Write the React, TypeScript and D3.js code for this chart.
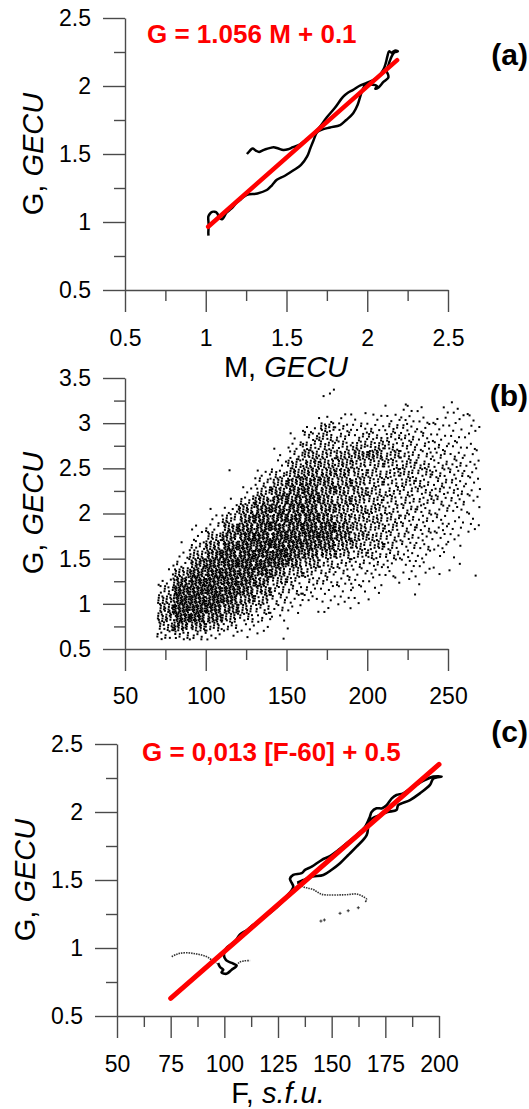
import React, { useRef, useEffect } from 'react';
import * as d3 from 'd3';

const FONT = 'Liberation Sans, Arial, Helvetica, sans-serif';

// (a) G vs M trajectory, [M, G]
const traceA: [number, number][] = [
  [1.255, 1.50], [1.27, 1.52], [1.29, 1.54], [1.31, 1.525], [1.33, 1.515], [1.35, 1.525], [1.37, 1.535],
  [1.40, 1.545], [1.42, 1.55], [1.45, 1.54], [1.48, 1.53], [1.51, 1.535], [1.54, 1.55], [1.575, 1.565],
  [1.605, 1.59], [1.637, 1.62], [1.667, 1.65], [1.70, 1.69], [1.75, 1.77], [1.80, 1.84], [1.85, 1.92],
  [1.88, 1.95], [1.91, 1.97], [1.95, 2.0], [1.99, 2.02], [2.03, 2.04], [2.07, 2.07], [2.10, 2.12],
  [2.115, 2.17], [2.125, 2.22], [2.135, 2.255], [2.15, 2.245], [2.17, 2.26], [2.19, 2.255], [2.165, 2.245],
  [2.145, 2.20], [2.13, 2.15], [2.12, 2.11], [2.13, 2.08], [2.13, 2.06], [2.10, 2.03], [2.07, 1.99],
  [2.05, 1.98], [2.06, 2.0], [2.03, 2.01], [1.99, 2.01], [1.97, 1.97], [1.956, 1.92], [1.94, 1.86],
  [1.913, 1.80], [1.87, 1.75], [1.832, 1.713], [1.77, 1.695], [1.72, 1.68], [1.69, 1.66], [1.667, 1.60],
  [1.647, 1.54], [1.627, 1.48], [1.59, 1.42], [1.543, 1.38], [1.49, 1.34], [1.44, 1.31], [1.41, 1.27],
  [1.378, 1.235], [1.32, 1.21], [1.255, 1.20], [1.22, 1.17], [1.19, 1.14], [1.16, 1.10], [1.13, 1.07],
  [1.10, 1.02], [1.085, 1.03], [1.07, 1.066], [1.055, 1.075], [1.04, 1.075], [1.025, 1.06], [1.016, 1.04],
  [1.018, 0.98], [1.016, 0.92], [1.017, 0.90],
];
const fitA: [number, number][] = [[1.015, 0.965], [2.185, 2.19]];

// (b) scatter G vs F: point counts per cell (base 36), F from 70 in steps of 10,
// G rows from 3.3-3.4 (top) down to 0.6-0.7
const scatterF = [70, 80, 90, 100, 110, 120, 130, 140, 150, 160, 170, 180, 190, 200, 210, 220, 230, 240, 250, 260];
const scatterG = [3.3, 3.2, 3.1, 3.0, 2.9, 2.8, 2.7, 2.6, 2.5, 2.4, 2.3, 2.2, 2.1, 2.0, 1.9, 1.8, 1.7, 1.6, 1.5, 1.4, 1.3, 1.2, 1.1, 1.0, 0.9, 0.8, 0.7, 0.6];
const scatterCounts = [
  '00000000002000000000',
  '00000000001000010010',
  '00000000000010132221',
  '00000000003223443332',
  '0000000004e856764333',
  '0000000028c878985432',
  '000000015ccadea86643',
  '000000018gehkme97653',
  '00000003ejhheccc9764',
  '00001049jlkjeccca864',
  '0000008gnpmjfcab9764',
  '000003dkprmjhc9a8873',
  '00001akprrmigca98763',
  '00015kssssmigea87542',
  '0002dnssuuoifea86532',
  '0026ksuuuwwpgca76533',
  '003epuwwwxwpic975431',
  '018luwwxwuriee965420',
  '03grwwyyupieaa854210',
  '06nwyyyxnga876543110',
  '2guwxwumea8644332111',
  '4sxyxuoea76643211000',
  'ayzzxska854332010000',
  'gzzzuke8543321000000',
  'kzzxoea5312200000000',
  'iyxqga63100000000000',
  'eoke8420100000000000',
  '8a842111000000000000',
];

// (c) G vs F trajectory, [F, G]
const traceC: [number, number][] = [
  [97.1, 0.89], [98, 0.86], [99.5, 0.84], [98.7, 0.82], [101, 0.81], [103.4, 0.84], [105.7, 0.87],
  [103.4, 0.89], [100.8, 0.91], [99.8, 0.95], [101, 1.0], [105, 1.05], [107.3, 1.10], [110.4, 1.13],
  [113.5, 1.17], [116.5, 1.20], [119.7, 1.24], [124.4, 1.30], [129, 1.38], [132.1, 1.45], [131, 1.49],
  [130.6, 1.51], [132.1, 1.537], [136, 1.55], [137.6, 1.574], [140.7, 1.598], [145.3, 1.647], [149.2, 1.676],
  [153.1, 1.72], [157, 1.77], [161.6, 1.83], [165.5, 1.89], [167.8, 1.965], [168.6, 2.0], [170.9, 2.027],
  [173.5, 2.027], [175.6, 2.05], [178, 2.10], [180.2, 2.125], [183.3, 2.137], [188, 2.186], [193.4, 2.235],
  [197.3, 2.26], [201.2, 2.26], [197.3, 2.245], [195.8, 2.199], [191.1, 2.137], [186.5, 2.088], [181, 2.05],
  [180.2, 2.015], [176, 2.0], [172.5, 1.978], [167.8, 1.94], [166.3, 1.83], [161.6, 1.745], [157.5, 1.68],
  [153.9, 1.623], [150, 1.575], [146.1, 1.537], [141, 1.525], [136.8, 1.50], [134, 1.48],
];
const trailC1: [number, number][] = [
  [75.5, 0.936], [77.5, 0.952], [79.3, 0.961], [82.4, 0.965], [85.5, 0.96], [87.1, 0.956], [89, 0.95],
  [91, 0.941], [92.5, 0.93], [94.1, 0.912], [96.4, 0.887],
];
const trailC2: [number, number][] = [[105.7, 0.87], [107, 0.895], [109, 0.905], [112, 0.907]];
const trailC3: [number, number][] = [
  [134, 1.48], [136.8, 1.45], [139, 1.44], [141.4, 1.43], [143.5, 1.41], [145.3, 1.395], [148, 1.39],
  [152.3, 1.39], [157, 1.392], [161.6, 1.397], [164.7, 1.377], [166.3, 1.358], [165.5, 1.335],
];
const sparseC: [number, number][] = [[162.4, 1.296], [157.7, 1.274], [153.9, 1.255], [146.6, 1.206], [145, 1.198]];
const fitC: [number, number][] = [[75, 0.63], [200, 2.35]];

type Scale = d3.ScaleLinear<number, number>;

function drawAxes(svg: any, x: Scale, y: Scale, xMajor: number[], xMinor: number[],
  yMajor: number[], yMinor: number[], xPad: number) {
  const x0 = x.range()[0];
  const y0 = y.range()[0];
  const style = (g: any) => {
    g.attr('font-family', FONT).attr('font-size', 23).style('color', '#4a4a4a');
    g.selectAll('line').attr('stroke-width', 1.4);
    g.selectAll('path').attr('stroke-width', 1.4);
    g.selectAll('text').attr('fill', '#000');
  };
  svg.append('g').attr('transform', `translate(0,${y0})`)
    .call(d3.axisBottom(x).tickValues(xMinor).tickSize(11).tickFormat(() => '').tickSizeOuter(0))
    .call(style).select('.domain').remove();
  svg.append('g').attr('transform', `translate(0,${y0})`)
    .call(d3.axisBottom(x).tickValues(xMajor).tickSize(22).tickPadding(xPad).tickSizeOuter(0).tickFormat(d3.format('')))
    .call(style);
  svg.append('g').attr('transform', `translate(${x0},0)`)
    .call(d3.axisLeft(y).tickValues(yMinor).tickSize(11).tickFormat(() => '').tickSizeOuter(0))
    .call(style).select('.domain').remove();
  svg.append('g').attr('transform', `translate(${x0},0)`)
    .call(d3.axisLeft(y).tickValues(yMajor).tickSize(22).tickPadding(12).tickSizeOuter(0).tickFormat(d3.format('')))
    .call(style);
}

function yTitle(svg: any, x: number, y: number) {
  const t = svg.append('text')
    .attr('transform', `translate(${x},${y}) rotate(-90)`)
    .attr('text-anchor', 'middle').attr('font-family', FONT).attr('font-size', 29).attr('fill', '#000');
  t.append('tspan').text('G, ');
  t.append('tspan').attr('font-style', 'italic').text('GECU');
}

function panelLabel(svg: any, text: string, y: number) {
  svg.append('text').attr('x', 528).attr('y', y).attr('text-anchor', 'end')
    .attr('font-family', FONT).attr('font-size', 30).attr('font-weight', 'bold').attr('fill', '#000').text(text);
}

function App() {
  const ref = useRef<SVGSVGElement>(null);

  useEffect(() => {
    if (!ref.current) return;
    const svg = d3.select(ref.current);
    svg.selectAll('*').remove();

    // ---------- (a)
    const xa = d3.scaleLinear().domain([0.5, 2.5]).range([125, 448]);
    const ya = d3.scaleLinear().domain([0.5, 2.5]).range([290, 18]);
    drawAxes(svg, xa, ya, [0.5, 1, 1.5, 2, 2.5], [0.75, 1.25, 1.75, 2.25],
      [0.5, 1, 1.5, 2, 2.5], [0.75, 1.25, 1.75, 2.25], 18);
    const lineA = d3.line<[number, number]>().x(d => xa(d[0])).y(d => ya(d[1])).curve(d3.curveCatmullRom);
    svg.append('path').attr('d', lineA(traceA)).attr('fill', 'none').attr('stroke', '#000')
      .attr('stroke-width', 2.5).attr('stroke-linejoin', 'round');
    svg.append('path').attr('d', d3.line<[number, number]>().x(d => xa(d[0])).y(d => ya(d[1]))(fitA))
      .attr('stroke', '#ff0000').attr('stroke-width', 4.5).attr('stroke-linecap', 'round');
    svg.append('text').attr('x', 147).attr('y', 43).attr('font-family', FONT).attr('font-size', 26)
      .attr('font-weight', 'bold').attr('fill', '#ff0000').text('G = 1.056 M + 0.1');
    yTitle(svg, 43, 154);
    const xt = svg.append('text').attr('x', 286).attr('y', 377).attr('text-anchor', 'middle')
      .attr('font-family', FONT).attr('font-size', 29).attr('fill', '#000');
    xt.append('tspan').text('M, ');
    xt.append('tspan').attr('font-style', 'italic').text('GECU');
    panelLabel(svg, '(a)', 65);

    // ---------- (b)
    const xb = d3.scaleLinear().domain([50, 250]).range([125, 448]);
    const yb = d3.scaleLinear().domain([0.5, 3.5]).range([649, 378]);
    drawAxes(svg, xb, yb, [50, 100, 150, 200, 250], [75, 125, 175, 225],
      [0.5, 1, 1.5, 2, 2.5, 3, 3.5], [0.75, 1.25, 1.75, 2.25, 2.75, 3.25], 17);
    const pts: [number, number][] = [];
    scatterCounts.forEach((row, r) => {
      row.split('').forEach((ch, c) => {
        const n = parseInt(ch, 36);
        const k = r * scatterF.length + c;
        const s1 = (k * 0.6180339887) % 1;
        const s2 = (k * 0.4142135624) % 1;
        for (let i = 0; i < n; i++) {
          const u = (s1 + (i + 1) * 0.7548776662) % 1;
          const v = (s2 + (i + 1) * 0.5698402910) % 1;
          pts.push([scatterF[c] + u * 10, scatterG[r] + v * 0.1]);
        }
      });
    });
    svg.append('g').selectAll('rect').data(pts).enter().append('rect')
      .attr('x', d => xb(d[0]) - 1).attr('y', d => yb(d[1]) - 1)
      .attr('width', 2).attr('height', 2).attr('fill', '#000');
    yTitle(svg, 43, 513);
    panelLabel(svg, '(b)', 406);

    // ---------- (c)
    const xc = d3.scaleLinear().domain([50, 200]).range([117, 439]);
    const yc = d3.scaleLinear().domain([0.5, 2.5]).range([1016, 744]);
    drawAxes(svg, xc, yc, [50, 75, 100, 125, 150, 175, 200], [62.5, 87.5, 112.5, 137.5, 162.5, 187.5],
      [0.5, 1, 1.5, 2, 2.5], [0.75, 1.25, 1.75, 2.25], 18);
    const lineC = d3.line<[number, number]>().x(d => xc(d[0])).y(d => yc(d[1])).curve(d3.curveCatmullRom);
    [trailC1, trailC2, trailC3].forEach(tr => {
      svg.append('path').attr('d', lineC(tr)).attr('fill', 'none').attr('stroke', '#333')
        .attr('stroke-width', 1.6).attr('stroke-dasharray', '1.5 1');
    });
    sparseC.forEach(d => {
      const px = xc(d[0]);
      const py = yc(d[1]);
      svg.append('path').attr('d', `M${px - 1.5},${py}H${px + 1.5}M${px},${py - 1.5}V${py + 1.5}`)
        .attr('stroke', '#333').attr('stroke-width', 1);
    });
    svg.append('path').attr('d', lineC(traceC)).attr('fill', 'none').attr('stroke', '#000')
      .attr('stroke-width', 2.6).attr('stroke-linejoin', 'round');
    svg.append('path').attr('d', d3.line<[number, number]>().x(d => xc(d[0])).y(d => yc(d[1]))(fitC))
      .attr('stroke', '#ff0000').attr('stroke-width', 5).attr('stroke-linecap', 'round');
    svg.append('text').attr('x', 142).attr('y', 761).attr('font-family', FONT).attr('font-size', 26)
      .attr('font-weight', 'bold').attr('fill', '#ff0000').text('G = 0,013 [F-60] + 0.5');
    yTitle(svg, 35, 880);
    const ft = svg.append('text').attr('x', 278).attr('y', 1103).attr('text-anchor', 'middle')
      .attr('font-family', FONT).attr('font-size', 29).attr('fill', '#000');
    ft.append('tspan').text('F, ');
    ft.append('tspan').attr('font-style', 'italic').text('s.f.u.');
    panelLabel(svg, '(c)', 742);
  }, []);

  return (
    <svg ref={ref} width={529} height={1109}
      style={{ position: 'absolute', left: 0, top: 0, background: '#fff', display: 'block' }} />
  );
}

export default App;
